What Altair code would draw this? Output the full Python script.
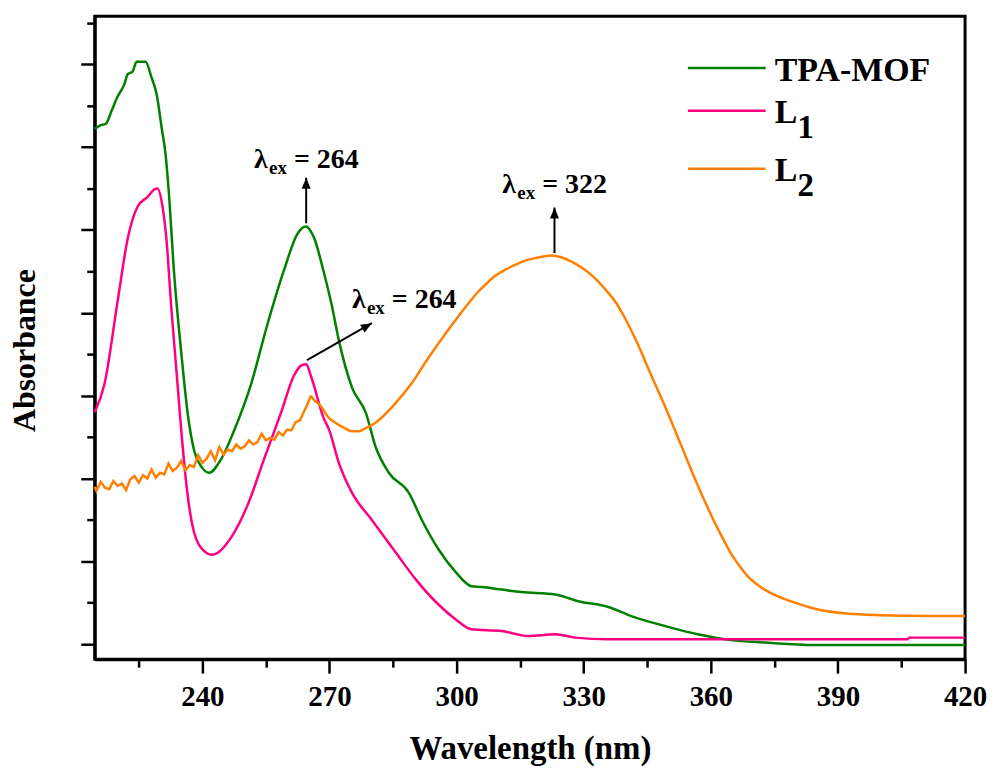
import altair as alt
import pandas as pd

FONT = "Liberation Serif"

series_names = ["TPA-MOF", "L1", "L2"]
series_colors = ["#008000", "#FF0080", "#FF8000"]

# TPA-MOF (green)
wl_tpa = [214.6, 215.8, 217.2, 218.6, 219.8, 221.6, 222.4, 223.5, 224.5, 226.6, 228.0, 229.2,
          230.4, 231.3, 232.0, 233.4, 235.1, 236.5, 238.1, 239.8, 241.6, 244.5, 247.5, 251.5,
          255.3, 259.3, 262.4, 263.5, 264.5, 265.5, 266.4, 268.7, 270.5, 272.2, 275.3, 278.6,
          280.9, 284.0, 288.7, 291.8, 295.8, 299.8, 303.5, 305.9, 310.6, 315.3, 323.3, 328.7,
          335.8, 341.2, 349.2, 356.9, 364.7, 372.7, 384.5, 400.0, 420.0]
abs_tpa = [0.622, 0.626, 0.628, 0.644, 0.659, 0.676, 0.688, 0.691, 0.703, 0.703, 0.684, 0.664,
           0.623, 0.592, 0.551, 0.443, 0.348, 0.280, 0.233, 0.214, 0.207, 0.224, 0.258, 0.314,
           0.385, 0.452, 0.495, 0.502, 0.504, 0.499, 0.490, 0.448, 0.410, 0.367, 0.310, 0.279,
           0.238, 0.207, 0.183, 0.150, 0.114, 0.087, 0.070, 0.069, 0.066, 0.063, 0.060, 0.052,
           0.045, 0.034, 0.022, 0.012, 0.005, 0.002, -0.001, -0.001, -0.001]

# L1 (pink)
wl_l1 = [214.6, 216.9, 220.0, 222.4, 224.7, 227.1, 228.7, 229.4, 230.6, 231.5, 232.7, 233.9,
         235.1, 236.5, 238.1, 240.5, 242.1, 243.5, 246.8, 250.6, 254.6, 258.6, 261.6, 263.5,
         264.5, 265.6, 268.7, 269.9, 272.2, 275.3, 280.0, 285.6, 290.4, 295.1, 299.8, 303.5,
         310.6, 316.9, 323.3, 328.0, 335.8, 356.9, 380.5, 406.4, 406.8, 420.0]
abs_l1 = [0.280, 0.314, 0.414, 0.490, 0.528, 0.540, 0.549, 0.550, 0.528, 0.490, 0.404, 0.329,
          0.253, 0.181, 0.134, 0.112, 0.108, 0.110, 0.129, 0.167, 0.224, 0.280, 0.324, 0.337,
          0.338, 0.324, 0.272, 0.259, 0.219, 0.183, 0.150, 0.111, 0.078, 0.051, 0.030, 0.018,
          0.016, 0.010, 0.012, 0.008, 0.006, 0.006, 0.006, 0.006, 0.008, 0.008]

# L2 (orange) - noisy short-wavelength part
wl_l2_noisy = [214.6, 215, 216, 217, 218, 219, 220, 221, 222, 223, 224, 225, 226, 227, 228, 229,
               230, 231, 232, 233, 234, 235, 236, 237, 238, 239, 240, 241, 242, 243, 244, 245,
               246, 247, 248, 249, 250, 251, 252, 253, 254, 255, 256, 257, 258, 259, 260, 261,
               262, 263, 264, 265, 265.6]
abs_l2_noisy = [0.190, 0.185, 0.196, 0.189, 0.187, 0.197, 0.191, 0.194, 0.186, 0.199, 0.203,
                0.195, 0.204, 0.200, 0.211, 0.201, 0.207, 0.205, 0.218, 0.209, 0.213, 0.221,
                0.210, 0.216, 0.214, 0.228, 0.219, 0.224, 0.233, 0.222, 0.238, 0.229, 0.235,
                0.233, 0.241, 0.236, 0.239, 0.246, 0.241, 0.244, 0.254, 0.246, 0.249, 0.247,
                0.256, 0.252, 0.259, 0.258, 0.268, 0.270, 0.281, 0.292, 0.300]
# L2 (orange) - smooth part
wl_l2 = [265.6, 266.5, 267.5, 269.9, 271.8, 273.5, 275.3, 277.0, 278.6, 280.5, 282.4, 285.6,
         289.4, 293.4, 297.4, 301.2, 303.2, 305.2, 307.2, 309.2, 311.5, 313.9, 316.2, 318.6,
         320.5, 322.4, 324.7, 327.0, 329.4, 331.5, 333.4, 335.8, 337.5, 340.0, 342.5, 345.9,
         349.2, 353.0, 356.9, 360.9, 362.8, 364.7, 366.7, 368.7, 370.7, 372.7, 375.7, 378.8,
         385.2, 392.2, 400.0, 411.8, 420.0]
abs_l2 = [0.300, 0.294, 0.290, 0.273, 0.266, 0.261, 0.257, 0.257, 0.261, 0.266, 0.274, 0.291,
          0.315, 0.346, 0.375, 0.401, 0.414, 0.426, 0.436, 0.445, 0.452, 0.458, 0.463, 0.466,
          0.468, 0.469, 0.467, 0.462, 0.455, 0.447, 0.438, 0.424, 0.413, 0.391, 0.365, 0.325,
          0.287, 0.240, 0.192, 0.147, 0.128, 0.110, 0.095, 0.082, 0.073, 0.066, 0.058, 0.052,
          0.042, 0.037, 0.035, 0.034, 0.034]

# annotations
ann_x = [252.2, 275.3, 310.8]
ann_y = [0.575, 0.4055, 0.544]
ann_value = ["= 264", "= 264", "= 322"]
arrow_x1 = [264.5, 264.7, 323.1]
arrow_y1 = [0.508, 0.343, 0.472]
arrow_x2 = [264.5, 280.0, 323.1]
arrow_y2 = [0.563, 0.3875, 0.527]
arrow_angle = [0, 60.3, 0]

x_ticks = [225, 240, 255, 270, 285, 300, 315, 330, 345, 360, 375, 390, 405, 420]
y_ticks = [0.0, 0.05, 0.1, 0.15, 0.2, 0.25, 0.3, 0.35, 0.4, 0.45, 0.5, 0.55, 0.6, 0.65, 0.7, 0.75]

rows = []
for name, seg, xs, ys in [("TPA-MOF", "smooth", wl_tpa, abs_tpa),
                          ("L1", "smooth", wl_l1, abs_l1),
                          ("L2", "noisy", wl_l2_noisy, abs_l2_noisy),
                          ("L2", "smooth", wl_l2, abs_l2)]:
    for i, (a, b) in enumerate(zip(xs, ys)):
        rows.append({"series": name, "seg": seg, "wl": a, "abs": b, "i": i})
df = pd.DataFrame(rows)

ann_df = pd.DataFrame({"tx": ann_x, "ty": ann_y, "val": ann_value})
arr_df = pd.DataFrame({"x1": arrow_x1, "y1": arrow_y1, "x2": arrow_x2, "y2": arrow_y2,
                       "angle": arrow_angle})
one = pd.DataFrame({"k": [0]})

xscale = alt.Scale(domain=[214.6, 420], nice=False, zero=False)
yscale = alt.Scale(domain=[-0.018, 0.758], nice=False, zero=False)

xaxis = alt.Axis(
    values=x_ticks,
    labelExpr="datum.value % 30 === 0 ? datum.label : ''",
    tickSize={"condition": {"test": "datum.value % 30 === 0", "value": 14}, "value": 8},
    labelFont=FONT, labelFontSize=29, labelFontWeight="bold", labelColor="black",
    labelPadding=9, labelOverlap=False, labelFlush=False,
    titleFont=FONT, titleFontSize=33, titleFontWeight="bold", titleColor="black",
    titleY=100, titleBaseline="alphabetic",
    grid=False,
)
yaxis = alt.Axis(
    values=y_ticks,
    labels=False,
    tickSize={"condition": {"test": "round(datum.value * 100) % 10 === 0", "value": 14}, "value": 8},
    titleFont=FONT, titleFontSize=32, titleFontWeight="bold", titleColor="black",
    titleX=-60, titleY=335, titleAngle=270, titleBaseline="alphabetic", titleAlign="center",
    grid=False,
)

color_enc = alt.Color("series:N", scale=alt.Scale(domain=series_names, range=series_colors),
                      legend=None)

lines = alt.Chart(df).transform_filter(alt.datum.seg == "smooth").mark_line(
    strokeWidth=2.5, interpolate="monotone"
).encode(
    x=alt.X("wl:Q", scale=xscale, axis=xaxis, title="Wavelength (nm)"),
    y=alt.Y("abs:Q", scale=yscale, axis=yaxis, title="Absorbance"),
    color=color_enc,
    order="i:Q",
)
noisy = alt.Chart(df).transform_filter(alt.datum.seg == "noisy").mark_line(
    strokeWidth=2.5, interpolate="linear"
).encode(
    x=alt.X("wl:Q", scale=xscale),
    y=alt.Y("abs:Q", scale=yscale),
    color=color_enc,
    order="i:Q",
)

rules = alt.Chart(arr_df).mark_rule(strokeWidth=2, color="black").encode(
    x="x1:Q", y="y1:Q", x2="x2:Q", y2="y2:Q"
)
heads = alt.Chart(arr_df).mark_point(
    shape="M0,0L-0.45,1.1L0.45,1.1Z", filled=True, size=400, color="black", opacity=1,
    strokeWidth=0
).encode(x="x2:Q", y="y2:Q", angle=alt.Angle("angle:Q", scale=None))

lam = alt.Chart(ann_df).mark_text(
    text="λ", font=FONT, fontSize=28, fontWeight="bold", align="left",
    baseline="alphabetic", color="black"
).encode(x="tx:Q", y="ty:Q")
sub_ex = alt.Chart(ann_df).mark_text(
    text="ex", font=FONT, fontSize=19, fontWeight="bold", align="left",
    baseline="alphabetic", color="black", dx=15, dy=6
).encode(x="tx:Q", y="ty:Q")
eq = alt.Chart(ann_df).mark_text(
    font=FONT, fontSize=28, fontWeight="bold", align="left",
    baseline="alphabetic", color="black", dx=40
).encode(x="tx:Q", y="ty:Q", text="val:N")

# legend (manual, in pixel space of the plot area)
legend_main = ["TPA-MOF", "L", "L"]
legend_sub = ["", "1", "2"]
legend_layers = []
leg_line_y = [52, 95, 153]
leg_text_y = [65, 107, 165]
for k in range(3):
    legend_layers.append(
        alt.Chart(one).mark_rule(strokeWidth=2.5, color=series_colors[k]).encode(
            x=alt.value(595), x2=alt.value(673), y=alt.value(leg_line_y[k])
        )
    )
    legend_layers.append(
        alt.Chart(one).mark_text(
            text=legend_main[k], font=FONT, fontSize=34, fontWeight="bold", align="left",
            baseline="alphabetic", color="black"
        ).encode(x=alt.value(682), y=alt.value(leg_text_y[k]))
    )
    if legend_sub[k]:
        legend_layers.append(
            alt.Chart(one).mark_text(
                text=legend_sub[k], font=FONT, fontSize=33, fontWeight="bold", align="left",
                baseline="alphabetic", color="black"
            ).encode(x=alt.value(705), y=alt.value(leg_text_y[k] + 15))
        )

chart = alt.layer(lines, noisy, rules, heads, lam, sub_ex, eq, *legend_layers).properties(
    width=873, height=645,
    autosize=alt.AutoSizeParams(type="none"),
    padding={"left": 87, "top": 7, "right": 24, "bottom": 110},
).configure_view(
    stroke="black", strokeWidth=3
).configure_axis(
    domainColor="black", domainWidth=3, tickColor="black", tickWidth=2.5
)

chart.save("out.html", embed_options={"renderer": "svg", "actions": False})
